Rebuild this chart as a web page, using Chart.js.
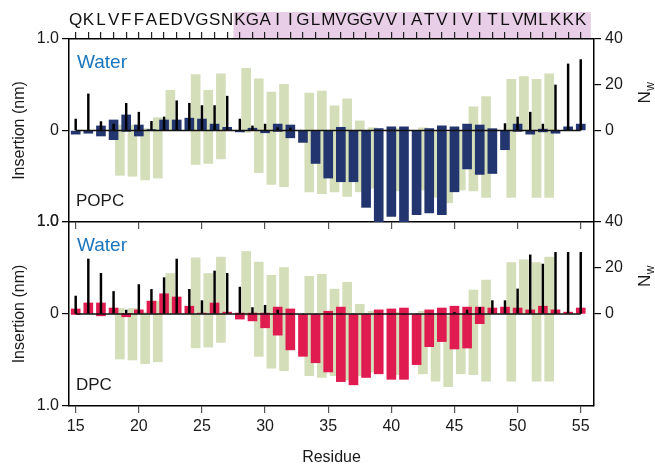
<!DOCTYPE html>
<html>
<head>
<meta charset="utf-8">
<script src="https://cdn.jsdelivr.net/npm/chart.js@4.4.1/dist/chart.umd.min.js"></script>
<style>
  body { margin: 0; background: #fff; }
  #wrap { position: relative; width: 655px; height: 464px; }
  canvas { position: absolute; left: 0; }
  #top { top: 0; z-index: 2; }
  #bottom { top: 200px; z-index: 1; }
</style>
</head>
<body>
<div id="wrap">
  <canvas id="top" width="655" height="240"></canvas>
  <canvas id="bottom" width="655" height="264"></canvas>
</div>
<script>
const residues = [15, 16, 17, 18, 19, 20, 21, 22, 23, 24, 25, 26, 27, 28, 29, 30, 31, 32, 33, 34, 35,
	36, 37, 38, 39, 40, 41, 42, 43, 44, 45, 46, 47, 48, 49, 50, 51, 52, 53, 54, 55];
const sequence = ["Q","K","L","V","F","F","A","E","D","V","G","S","N","K","G","A","I","I","G","L","M",
	"V","G","G","V","V","I","A","T","V","I","V","I","T","L","V","M","L","K","K","K"];
const tmRegion = [27.5, 55.8];

// insertion ranges in nm, [water side, membrane side], positive = into membrane
const popcDepth = [[0, 0.04], [0, 0.03], [-0.05, 0.06], [-0.115, 0.1], [-0.17, 0.01], [-0.06, 0.06],
	[-0.01, 0], [-0.115, 0], [-0.115, 0], [-0.135, 0], [-0.125, 0], [-0.07, 0], [-0.035, 0],
	[0, 0.015], [-0.025, 0], [0, 0.025], [-0.07, 0.01], [-0.06, 0.08], [0, 0.13], [0, 0.36],
	[0, 0.52], [-0.035, 0.56], [0, 0.56], [0, 0.84], [-0.02, 1.0], [-0.04, 0.94], [-0.04, 1.0],
	[0, 0.92], [-0.02, 0.9], [-0.05, 0.92], [-0.04, 0.67], [-0.07, 0.42], [-0.06, 0.48],
	[-0.02, 0.47], [0, 0.21], [-0.07, 0.01], [0, 0.04], [-0.015, 0.015], [0, 0.03], [-0.04, 0], [-0.07, 0]];
const dpcDepth = [[-0.055, 0.005], [-0.12, 0], [-0.12, 0.02], [-0.065, 0], [-0.005, 0.03], [-0.045, 0],
	[-0.14, 0], [-0.22, 0], [-0.185, 0], [-0.085, 0], [-0.01, 0], [-0.12, 0], [-0.02, 0],
	[-0.01, 0.055], [-0.01, 0.075], [-0.01, 0.15], [-0.075, 0.23], [-0.055, 0.39], [0, 0.46],
	[0, 0.53], [-0.03, 0.63], [-0.075, 0.735], [0, 0.77], [0, 0.69], [-0.045, 0.65], [-0.055, 0.71],
	[-0.065, 0.71], [0, 0.55], [-0.045, 0.355], [-0.065, 0.3], [-0.085, 0.38], [-0.075, 0.37],
	[-0.075, 0.105], [-0.065, 0], [-0.075, 0], [-0.065, 0], [-0.045, 0], [-0.085, 0], [-0.045, 0],
	[-0.02, 0], [-0.065, 0]];
// reference ranges (same in both panels), drawn between residue i and i+1
const refRange = [null, null, null, [-0.06, 0.49], [-0.06, 0.5], [-0.02, 0.54], [-0.14, 0.52],
	[-0.44, 0], null, [-0.61, 0.37], [-0.44, 0.36], [-0.62, 0.31], null, [-0.68, 0.02],
	[-0.565, 0.46], [-0.42, 0.59], [-0.505, 0.615], null, [-0.41, 0.67], [-0.43, 0.69],
	[-0.27, 0.67], [-0.345, 0.72], [-0.105, 0.67], [-0.03, 0.63], null, [-0.02, 0.66], null,
	[-0.03, 0.65], [0, 0.73], [0.02, 0.79], [0, 0.65], [-0.26, 0.66], [-0.37, 0.73], null,
	[-0.56, 0.73], [-0.59, 0], [-0.56, 0.73], [-0.62, 0.73], null, null, null];
// number of water molecules
const popcWater = [5.0, 16.0, 3.9, 2.8, 11.9, 8.0, 4.0, 5.9, 13.0, 11.9, 10.9, 10.9, 15.0, 5.0, 2.0,
	2.8, 1.2, 1.1, 0, 0, 0, 0, 0, 0, 0, 0, 0, 0, 0, 0, 0, 0, 0, 0, 3.0, 5.9, 8.0, 2.8, 19.9, 29.1, 31.0];
const dpcWater = [7.8, 23.9, 17.7, 9.8, 1.7, 12.8, 10.7, 15.8, 23.9, 10.7, 5.8, 18.7, 17.7, 11.7, 2.8,
	3.8, 1.7, 0, 0, 0, 0, 0, 0, 0, 0, 0, 0, 0, 0, 0, 0.7, 1.7, 2.9, 5.8, 5.8, 10.9, 25.7, 21.7, 26.8, 26.8, 26.8];

const insertionTicks = [-1, 0, 1];
const waterTicks = [0, 20, 40];
const residueTicks = [15, 20, 25, 30, 35, 40, 45, 50, 55];

const family = "'Liberation Sans', Arial, Helvetica, sans-serif";
Chart.defaults.font.family = family;
Chart.defaults.font.size = 16;
Chart.defaults.color = "#1a1a1a";

const xMin = 14.47, xMax = 56.05;
const refShift = 0.5;

const decorations = {
	id: "decorations",
	beforeDraw(chart, args, opts) {
		if (!opts.band) return;
		const {ctx, chartArea} = chart;
		const sx = chart.scales.xTop;
		const x0 = sx.getPixelForValue(opts.band[0]);
		const x1 = sx.getPixelForValue(opts.band[1]);
		ctx.save();
		ctx.fillStyle = "#e8cee6";
		ctx.fillRect(x0, 12, x1 - x0, chartArea.top - 12);
		ctx.restore();
	},
	afterDraw(chart, args, opts) {
		const {ctx, chartArea} = chart;
		ctx.save();
		ctx.textBaseline = "alphabetic";
		ctx.textAlign = "left";
		ctx.fillStyle = "#1b75bc";
		ctx.font = "19px " + family;
		ctx.fillText("Water", chartArea.left + 8, chartArea.top + 29);
		ctx.fillStyle = "#1a1a1a";
		ctx.font = "17px " + family;
		ctx.fillText(opts.membrane, chartArea.left + 7, chartArea.bottom - 16);

		// N_w axis title, read bottom to top
		const y0 = chart.scales.y2.getPixelForValue(0);
		ctx.translate(chartArea.right + 56, y0 - 27);
		ctx.rotate(-Math.PI / 2);
		ctx.font = "17px " + family;
		ctx.fillText("N", 0, 0);
		const w = ctx.measureText("N").width;
		ctx.font = "12px " + family;
		ctx.fillText("w", w + 0.5, 4);
		ctx.restore();
	}
};

function tickGrid(color) {
	return {display: true, drawOnChartArea: false, drawTicks: true, tickLength: 7, color: color, lineWidth: 1.2, offset: false};
}
const frame = {display: true, color: "#000", width: 1.5};

function buildDatasets(depth, water, color) {
	return [
		{
			type: "bar",
			data: residues.map((r, i) => ({x: r + refShift, y: refRange[i]})).filter(p => p.y !== null),
			backgroundColor: "#d4deb9",
			barThickness: 9,
			grouped: false,
			order: 3,
			yAxisID: "y"
		},
		{
			type: "bar",
			data: residues.map((r, i) => ({x: r, y: depth[i]})),
			backgroundColor: color,
			barThickness: 9,
			grouped: false,
			order: 2,
			yAxisID: "y"
		},
		{
			type: "bar",
			data: residues.map((r, i) => ({x: r, y: water[i]})),
			backgroundColor: "#000",
			barThickness: 1.8,
			grouped: false,
			order: 1,
			yAxisID: "y2"
		},
		{
			type: "line",
			data: [{x: residues[0], y: 0}, {x: residues[residues.length - 1], y: 0}],
			borderColor: "#111",
			borderWidth: 1.5,
			pointRadius: 0,
			order: 0,
			yAxisID: "y2"
		}
	];
}

function yScales() {
	return {
		y: {
			position: "left", min: -1, max: 1, reverse: true,
			afterBuildTicks: s => { s.ticks = insertionTicks.map(v => ({value: v})); },
			afterFit: s => { s.width = 69; },
			grid: tickGrid("#000"), border: frame,
			ticks: {padding: 3, callback: v => v === 0 ? "0" : Math.abs(v).toFixed(1)},
			title: {display: true, text: "Insertion (nm)", font: {size: 16}, padding: {top: 10, bottom: 0}}
		},
		y2: {
			position: "right", min: -40, max: 40,
			afterBuildTicks: s => { s.ticks = waterTicks.map(v => ({value: v})); },
			afterFit: s => { s.width = 61; },
			grid: tickGrid("#000"), border: frame,
			ticks: {padding: 4}
		}
	};
}

const common = {
	responsive: false,
	animation: false,
	plugins: {legend: {display: false}, tooltip: {enabled: false}}
};

let topScales = yScales();
topScales.x = {
	type: "linear", position: "bottom", min: xMin, max: xMax, offset: false,
	afterBuildTicks: s => { s.ticks = residueTicks.map(v => ({value: v})); },
	afterFit: s => { s.height = 18; },
	grid: tickGrid("#555"), border: frame,
	ticks: {display: false}
};
topScales.xTop = {
	type: "linear", position: "top", min: xMin, max: xMax, offset: false,
	afterBuildTicks: s => { s.ticks = residues.map(v => ({value: v})); },
	afterFit: s => { s.height = 39; },
	grid: tickGrid("#222"), border: frame,
	ticks: {autoSkip: false, maxRotation: 0, minRotation: 0, padding: 1, color: "#111",
		font: {size: 17}, callback: v => sequence[residues.indexOf(v)]}
};

new Chart(document.getElementById("top"), {
	type: "bar",
	data: {datasets: buildDatasets(popcDepth, popcWater, "#23356e")},
	options: Object.assign({}, common, {
		layout: {autoPadding: false, padding: 0},
		scales: topScales,
		plugins: Object.assign({}, common.plugins, {decorations: {membrane: "POPC", band: tmRegion}})
	}),
	plugins: [decorations]
});

let bottomScales = yScales();
bottomScales.x = {
	type: "linear", position: "bottom", min: xMin, max: xMax, offset: false,
	afterBuildTicks: s => { s.ticks = residueTicks.map(v => ({value: v})); },
	afterFit: s => { s.height = 58; },
	grid: tickGrid("#555"), border: frame,
	ticks: {padding: 4, maxRotation: 0, autoSkip: false},
	title: {display: true, text: "Residue", font: {size: 16, lineHeight: 0.8}, padding: 0}
};

new Chart(document.getElementById("bottom"), {
	type: "bar",
	data: {datasets: buildDatasets(dpcDepth, dpcWater, "#e01b50")},
	options: Object.assign({}, common, {
		layout: {autoPadding: false, padding: {top: 22, left: 0, right: 0, bottom: 0}},
		scales: bottomScales,
		plugins: Object.assign({}, common.plugins, {decorations: {membrane: "DPC"}})
	}),
	plugins: [decorations]
});
</script>
</body>
</html>
